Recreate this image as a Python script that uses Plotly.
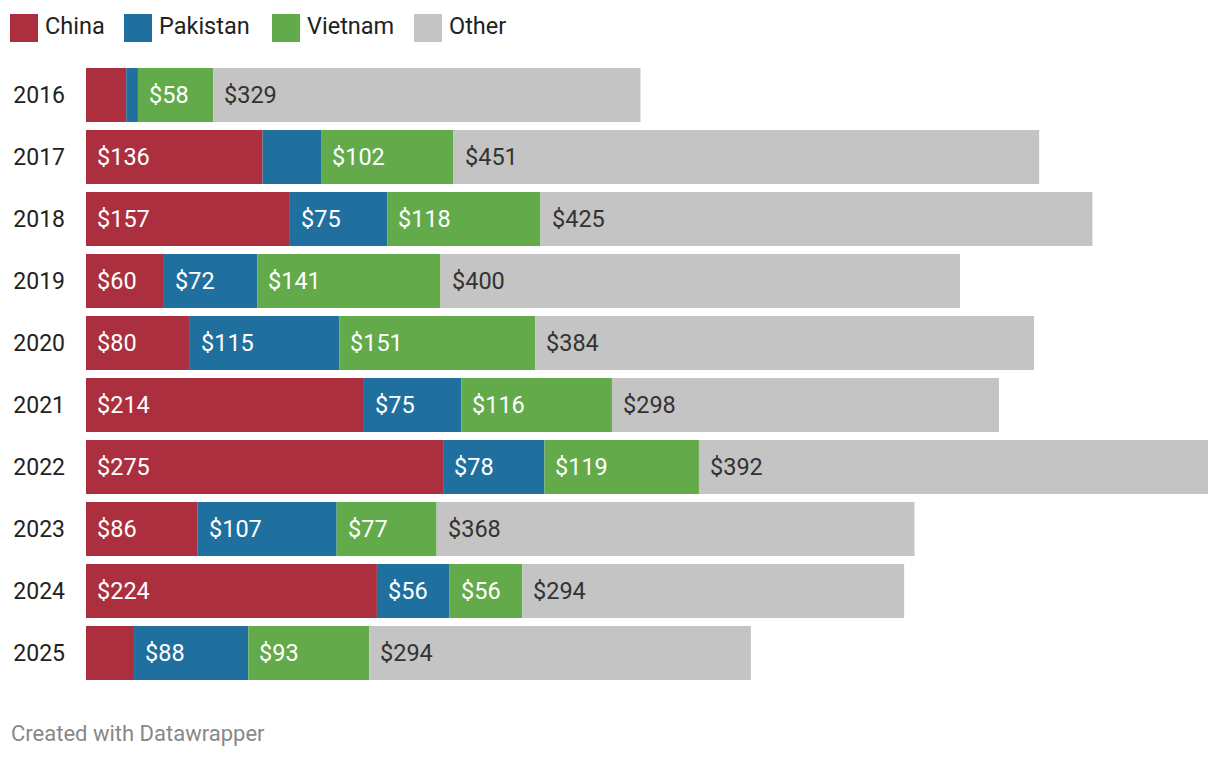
import plotly.graph_objects as go

years = ["2016", "2017", "2018", "2019", "2020", "2021", "2022", "2023", "2024", "2025"]
china = [31, 136, 157, 60, 80, 214, 275, 86, 224, 37]
pakistan = [9, 45, 75, 72, 115, 75, 78, 107, 56, 88]
vietnam = [58, 102, 118, 141, 151, 116, 119, 77, 56, 93]
other = [329, 451, 425, 400, 384, 298, 392, 368, 294, 294]
# which values carry a label in the reference
china_show = [False, True, True, True, True, True, True, True, True, False]
pakistan_show = [False, False, True, True, True, True, True, True, True, True]
vietnam_show = [True] * 10
other_show = [True] * 10

series = [
    ("China", china, china_show, "#ab2f3e", "#ffffff"),
    ("Pakistan", pakistan, pakistan_show, "#1f6f9f", "#ffffff"),
    ("Vietnam", vietnam, vietnam_show, "#63aa4a", "#ffffff"),
    ("Other", other, other_show, "#c4c4c4", "#333333"),
]

W, H = 1220, 758
ML, MR, MT, MB = 86, 12, 64, 74
PW, PH = W - ML - MR, H - MT - MB
FONT = "Roboto"

fig = go.Figure()
annotations = []
base = [0] * len(years)
for name, vals, show, color, tcol in series:
    fig.add_trace(go.Bar(
        y=years, x=vals, base=base, name=name, orientation="h",
        marker=dict(color=color, line=dict(width=0)),
        showlegend=False, hoverinfo="x+name",
    ))
    for i, y in enumerate(years):
        if show[i]:
            # category axis: annotations use the category's serial number
            annotations.append(dict(
                x=base[i], y=i, xref="x", yref="y", text=f"${vals[i]}",
                showarrow=False, xanchor="left", yanchor="middle", xshift=9,
                font=dict(family=FONT, size=23.5, color=tcol),
            ))
    base = [b + v for b, v in zip(base, vals)]

totals = base
xmax = max(totals)

# custom legend
shapes = []
lx = [10, 124, 272, 414]
for (name, vals, show, color, tcol), px in zip(series, lx):
    x0 = (px - ML) / PW
    x1 = (px + 28 - ML) / PW
    y0 = (MT + PH - 42) / PH
    y1 = (MT + PH - 14) / PH
    shapes.append(dict(type="rect", xref="paper", yref="paper", x0=x0, x1=x1, y0=y0, y1=y1,
                       fillcolor=color, line=dict(width=0)))
    annotations.append(dict(
        x=(px + 33 - ML) / PW, y=(MT + PH - 26) / PH, xref="paper", yref="paper",
        text=name, showarrow=False, xanchor="left", yanchor="middle",
        font=dict(family=FONT, size=23.5, color="#222222"),
    ))

annotations.append(dict(
    x=(9 - ML) / PW, y=(MT + PH - 733) / PH, xref="paper", yref="paper",
    text="Created with Datawrapper", showarrow=False, xanchor="left", yanchor="middle",
    font=dict(family=FONT, size=22, color="#888888"),
))

fig.update_layout(
    barmode="overlay", bargap=0.13,
    width=W, height=H,
    margin=dict(l=ML, r=MR, t=MT, b=MB, pad=0),
    paper_bgcolor="white", plot_bgcolor="white",
    font=dict(family=FONT, size=23, color="#222222"),
    xaxis=dict(range=[0, xmax], visible=False, fixedrange=True),
    yaxis=dict(type="category", categoryorder="array", categoryarray=years,
               autorange="reversed", showgrid=False, zeroline=False, showline=False,
               ticks="", ticklabelstandoff=20, tickfont=dict(family=FONT, size=23, color="#222222"),
               fixedrange=True),
    annotations=annotations, shapes=shapes,
)

fig.write_html("out.html", config={"displayModeBar": False},
               post_script="document.body.style.margin='0';document.body.style.overflow='hidden';")
